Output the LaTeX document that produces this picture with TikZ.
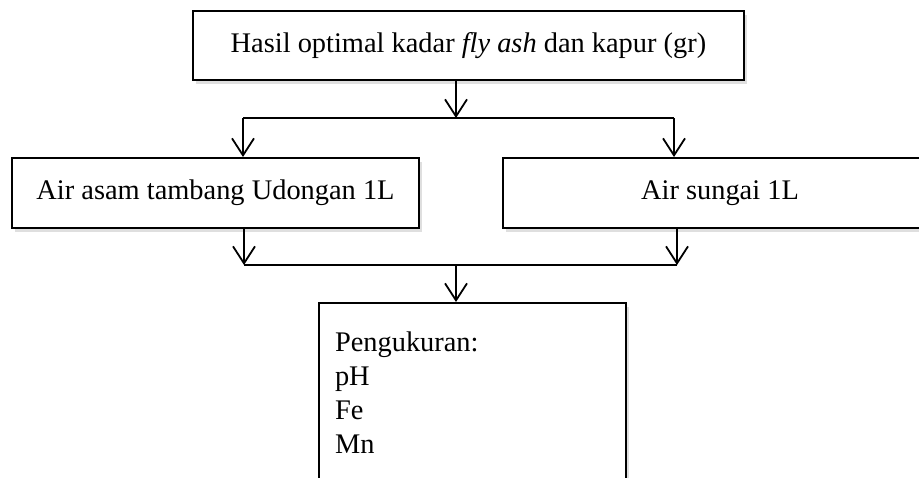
\documentclass[tikz,border=0pt]{standalone}
\usepackage{fontspec}
\setmainfont{Liberation Serif}
\usetikzlibrary{arrows.meta,positioning,shadows}
\tikzset{
  >={Straight Barb[length=8.5pt,width=11pt]},
  box/.style={draw=black,fill=white,line width=1pt,inner sep=0pt,align=center,
    font=\fontsize{14.2}{17}\selectfont,
    drop shadow={opacity=0.25,shadow xshift=1.5pt,shadow yshift=-2pt}},
  flow/.style={->,line width=0.9pt},
  link/.style={line width=0.9pt},
}

\begin{document}
\begin{tikzpicture}[x=0.5pt,y=-0.5pt]
    \useasboundingbox (0,0) rectangle (919,477);
    \clip (0,0) rectangle (919,477);
    % Hasil
    \node[box,minimum width=275.5pt,minimum height=34.5pt] (hasil) at (468.5,45.5) {Hasil optimal kadar \textit{fly ash} dan kapur (gr)};
    % Sampel air
    \node[box,minimum width=203.5pt,minimum height=35pt] (asam) at (215.5,193) {Air asam tambang Udongan 1L};
    \node[box,minimum width=217pt,minimum height=35pt] (sungai) at (720,193) {Air sungai 1L};
    % Pengukuran
    \node[box,align=left,text width=137.5pt,inner xsep=8pt,minimum height=90pt] (ukur) at (472.5,393) {Pengukuran:\\pH\\Fe\\Mn};
    % Cabang
    \coordinate (split) at (456,118);
    \coordinate (kiri) at (243,118);
    \coordinate (kanan) at (674,118);
    \draw[flow] (split |- hasil.south) -- (split);
    \draw[link] (kiri) -- (kanan);
    \draw[flow] (kiri) -- (kiri |- asam.north);
    \draw[flow] (kanan) -- (kanan |- sungai.north);
    % Gabung
    \coordinate (merge) at (456,265);
    \coordinate (kiribawah) at (244,265);
    \coordinate (kananbawah) at (677,265);
    \draw[flow] (kiribawah |- asam.south) -- (kiribawah);
    \draw[flow] (kananbawah |- sungai.south) -- (kananbawah);
    \draw[link] (kiribawah) -- (kananbawah);
    \draw[flow] (merge) -- (merge |- ukur.north);
\end{tikzpicture}
\end{document}
